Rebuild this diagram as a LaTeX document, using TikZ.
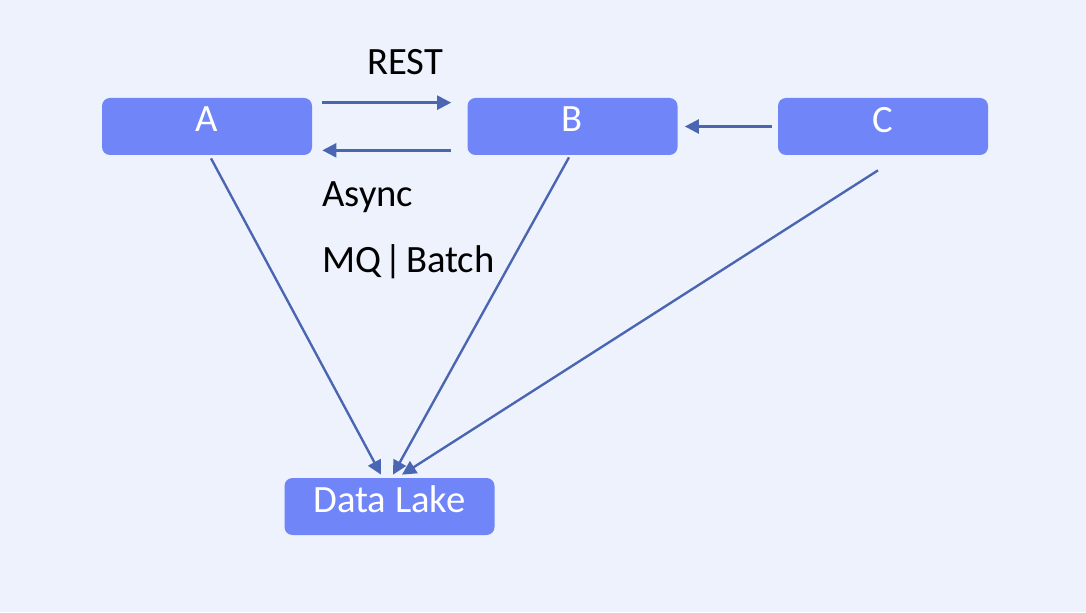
\documentclass[tikz,border=0pt]{standalone}
\usepackage{fontspec}
\setmainfont{Carlito}
\usepackage{xcolor}
\usetikzlibrary{arrows.meta}
\definecolor{bgcol}{HTML}{EEF2FD}
\definecolor{boxcol}{HTML}{6F85F8}
\definecolor{linecol}{HTML}{4A66B3}
\begin{document}
\begin{tikzpicture}[
            box/.style={rectangle, fill=boxcol, rounded corners=0.16cm, minimum width=4.2cm, minimum height=1.14cm, text depth=0.28cm, align=center, text=white, font=\fontsize{22}{26}\selectfont},
            lbl/.style={font=\fontsize{22}{26}\selectfont, inner sep=0pt},
            arrow/.style={->, line width=1.35pt, draw=linecol, >={Triangle[length=8pt,width=8pt]}}
        ]
            \fill[bgcol] (0,0) rectangle (21.72,12.24);
            \useasboundingbox (0,0) rectangle (21.72,12.24);
            \node[box] (a) at (4.14,9.71) {A};
            \node[box] (b) at (11.45,9.71) {B};
            \node[box] (c) at (17.66,9.71) {C};
            \node[box] (lake) at (7.79,2.11) {Data Lake};
            \node[lbl] (rest) at (8.10,11.0) {REST};
            \node[lbl, anchor=west] (async) at (6.44,8.30) {Async};
            \node[lbl, anchor=west] (mq) at (6.44,7.0) {MQ\kern2pt|\kern2pt Batch};
            
            \draw[arrow] ([xshift=0.2cm,yshift=-0.1cm]a.north east) -- ([xshift=-0.32cm,yshift=-0.1cm]b.north west);
            \draw[arrow] ([xshift=-0.32cm,yshift=0.1cm]b.south west) -- ([xshift=0.2cm,yshift=0.1cm]a.south east);
            \draw[arrow] ([xshift=-0.12cm]c.west) -- ([xshift=0.14cm]b.east);
            \draw[arrow] ([xshift=0.08cm,yshift=-0.06cm]a.south) -- ([xshift=-0.17cm,yshift=0.06cm]lake.north);
            \draw[arrow] ([xshift=-0.07cm,yshift=-0.04cm]b.south) -- ([xshift=0.07cm,yshift=0.06cm]lake.north);
            \draw[arrow] ([xshift=-0.1cm,yshift=-0.3cm]c.south) -- ([xshift=0.25cm,yshift=0.06cm]lake.north);
        \end{tikzpicture}
\end{document}
